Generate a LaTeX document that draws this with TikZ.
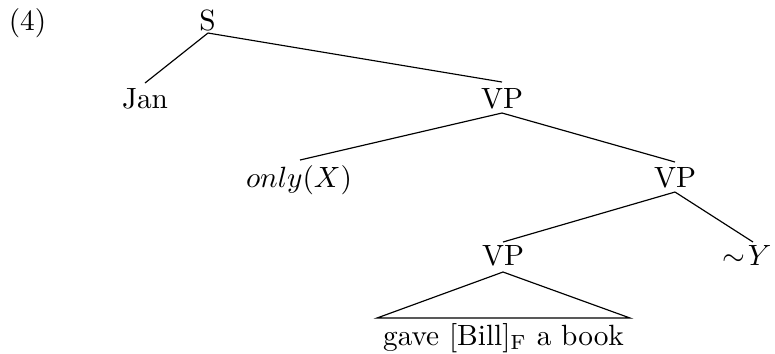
\documentclass[tikz,border=0pt]{standalone}
\usetikzlibrary{calc}
\begin{document}
\begin{tikzpicture}[x=0.3413pt,y=-0.3413pt,
  lbl/.style={inner sep=0pt, anchor=base},
  edge/.style={line width=0.4pt}]
\useasboundingbox (0,0) rectangle (775,353);
\node[lbl] (ex) at (27.5,30) {(4)};
\node[lbl] (S) at (207.5,30) {S};
\node[lbl] (jan) at (145,108) {Jan};
\node[lbl] (vp1) at (502,108) {VP};
\node[lbl] (only) at (299,187) {$only(X)$};
\node[lbl] (vp2) at (675,187) {VP};
\node[lbl] (vp3) at (503,265) {VP};
\node[lbl] (y) at (747,265) {${\sim}\mkern1.5mu Y$};
\node[lbl] (leaf) at (503.5,345) {gave [Bill]$_{\mathrm{F}}$ a book};
\draw[edge] ($(S.base)+(0.5,3)$) -- ($(jan.base)+(0,-25)$);
\draw[edge] ($(S.base)+(0.5,3)$) -- ($(vp1.base)+(0,-26)$);
\draw[edge] ($(vp1.base)+(0,5)$) -- ($(only.base)+(1,-27)$);
\draw[edge] ($(vp1.base)+(0,5)$) -- ($(vp2.base)+(0,-25)$);
\draw[edge] ($(vp2.base)+(0,5)$) -- ($(vp3.base)+(0,-23)$);
\draw[edge] ($(vp2.base)+(0,5)$) -- ($(y.base)+(6,-23)$);
\draw[edge] ($(vp3.base)+(0,7)$) -- ($(leaf.base)+(-126.5,-27)$) -- ($(leaf.base)+(126.5,-27)$) -- cycle;
\end{tikzpicture}
\end{document}
